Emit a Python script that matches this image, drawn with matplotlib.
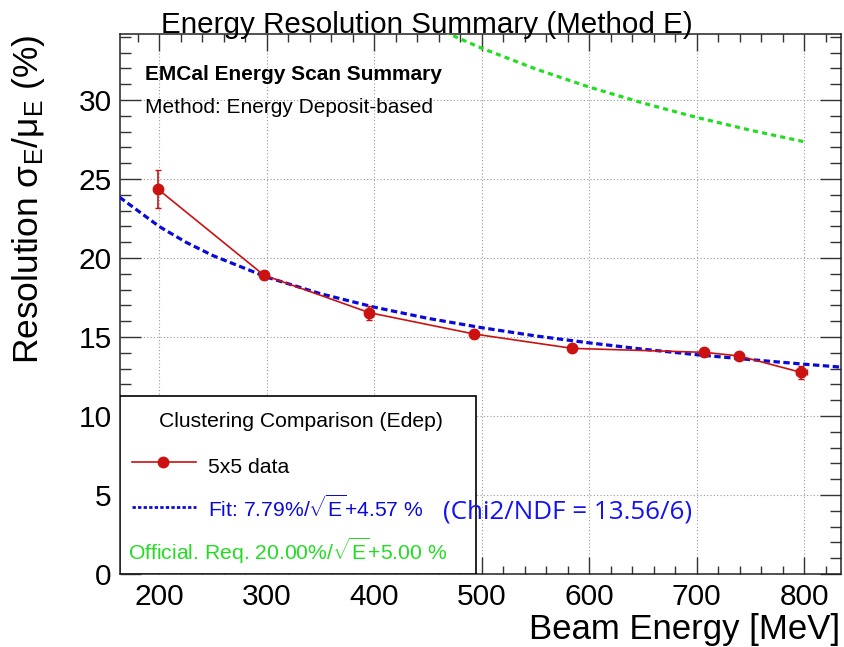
import numpy as np
import matplotlib
matplotlib.use('Agg')
import matplotlib.pyplot as plt
from matplotlib.patches import Rectangle
from matplotlib.lines import Line2D

plt.rcParams['font.family'] = ['Liberation Sans', 'DejaVu Sans']
plt.rcParams['mathtext.fontset'] = 'custom'
plt.rcParams['mathtext.rm'] = 'Liberation Sans'
plt.rcParams['mathtext.it'] = 'Liberation Sans:italic'
plt.rcParams['mathtext.bf'] = 'Liberation Sans:bold'
plt.rcParams['mathtext.sf'] = 'Liberation Sans'

# data
energy = [198.5, 297.2, 395.4, 492.9, 584.4, 707.2, 739.5, 797.2]
resol = [24.37, 18.92, 16.54, 15.19, 14.28, 14.03, 13.80, 12.76]
resol_err = [1.2, 0.2, 0.45, 0.25, 0.2, 0.2, 0.2, 0.4]
energy_err = [0, 0, 0, 0, 0, 0, 0, 5]

# fit curve 7.79%/sqrt(E)+4.57 %, read at these energies
fit_e = [163, 200, 225, 250, 300, 350, 400, 450, 500, 550, 600, 650, 700, 750, 800, 835]
fit_r = [23.85, 21.99, 20.99, 20.15, 18.79, 17.74, 16.89, 16.18, 15.59, 15.07,
         14.63, 14.23, 13.88, 13.57, 13.28, 13.09]

# official requirement 20%/sqrt(E)+5 %
req_e = [450, 475, 500, 550, 600, 650, 700, 750, 800]
req_r = [34.81, 34.02, 33.28, 31.97, 30.82, 29.81, 28.90, 28.09, 27.36]

xlim = [163.4, 834.0]
ylim = [0, 34.16]

red = '#cc1111'
blue = '#0a0ad8'
green = '#22dd22'

W, H = 845, 647
fig = plt.figure(figsize=(W / 100, H / 100), dpi=100)
L, R, T, B = 120, 840.7, 34.3, 574
ax = fig.add_axes([L / W, 1 - B / H, (R - L) / W, (B - T) / H])

def to_ax(px, py):
    return (px - L) / (R - L), (B - py) / (B - T)

ax.plot(req_e, req_r, color=green, lw=2.3, ls=(0, (1.6, 1.3)), zorder=3)
ax.plot(fit_e, fit_r, color=blue, lw=2.3, ls=(0, (2.0, 1.1)), zorder=4)
ax.errorbar(energy, resol, yerr=resol_err, xerr=energy_err, color=red, marker='o',
            markersize=7.5, lw=1.2, elinewidth=1.2, capsize=2.5, zorder=5)

ax.set_xlim(xlim)
ax.set_ylim(ylim)
ax.set_xticks(np.arange(200, 801, 100))
ax.set_xticks(np.arange(180, 834, 20), minor=True)
ax.set_yticks(np.arange(0, 31, 5))
ax.set_yticks(np.arange(0, 35, 1), minor=True)
ax.grid(True, which='major', color='#999999', lw=0.8, ls=(0, (1, 2)))
ax.tick_params(which='both', direction='in', top=True, right=True, colors='#333333',
               labelsize=21.5, width=1.0)
ax.tick_params(axis='x', which='major', length=12, pad=6.5)
ax.tick_params(axis='x', which='minor', length=6)
ax.tick_params(axis='y', which='major', length=15, pad=6)
ax.tick_params(axis='y', which='minor', length=8)
ax.tick_params(axis='both', labelcolor='black')
for s in ax.spines.values():
    s.set_linewidth(1.1)
    s.set_color('#222222')

fig.text(426.5 / W, 1 - 33 / H, 'Energy Resolution Summary (Method E)',
         ha='center', va='baseline', fontsize=21.3)
fig.text(840 / W, 1 - 639 / H, 'Beam Energy [MeV]', ha='right', va='baseline', fontsize=25)
fig.text(29 / W, 1 - 35 / H, 'Resolution σ$_{\\mathrm{E}}$/μ$_{\\mathrm{E}}$ (%)',
         rotation=90, ha='center', va='top', fontsize=25.5)

x0, y0 = to_ax(145, 80)
ax.text(x0, y0, 'EMCal Energy Scan Summary', transform=ax.transAxes,
        fontsize=15, fontweight='bold', va='baseline')
x0, y0 = to_ax(145, 113.3)
ax.text(x0, y0, 'Method: Energy Deposit-based', transform=ax.transAxes,
        fontsize=15, va='baseline')

# legend box
bx1, by1 = to_ax(475.7, 396)
ax.add_patch(Rectangle((0, 0), bx1, by1, transform=ax.transAxes, facecolor='white',
                       edgecolor='black', lw=1.2, zorder=6))
x0, y0 = to_ax(300.5, 426.7)
ax.text(x0, y0, 'Clustering Comparison (Edep)', transform=ax.transAxes, ha='center',
        va='baseline', fontsize=15.2, zorder=7)
xa, ya = to_ax(132, 462.3)
xb, _ = to_ax(196, 462.3)
xm, _ = to_ax(163.3, 462.3)
ax.add_line(Line2D([xa, xb], [ya, ya], transform=ax.transAxes, color=red, lw=1.2, zorder=7))
ax.add_line(Line2D([xm], [ya], transform=ax.transAxes, color=red, marker='o',
                   markersize=7.5, zorder=7))
x0, y0 = to_ax(208.3, 473.3)
ax.text(x0, y0, '5x5 data', transform=ax.transAxes, va='baseline', fontsize=15.2, zorder=7)
xa, ya = to_ax(132, 506.7)
ax.add_line(Line2D([xa, xb], [ya, ya], transform=ax.transAxes, color=blue, lw=2.0,
                   ls=(0, (1.2, 0.8)), zorder=7))
x0, y0 = to_ax(208.3, 516.7)
ax.text(x0, y0, 'Fit: 7.79%/$\\sqrt{\\mathrm{E}}$+4.57 %', transform=ax.transAxes,
        va='baseline', fontsize=15.2, color=blue, zorder=7)
x0, y0 = to_ax(128.3, 560)
ax.text(x0, y0, 'Official. Req. 20.00%/$\\sqrt{\\mathrm{E}}$+5.00 %', transform=ax.transAxes,
        va='baseline', fontsize=15.2, color=green, zorder=7)

x0, y0 = to_ax(442.7, 518.3)
ax.text(x0, y0, '(Chi2/NDF = 13.56/6)', transform=ax.transAxes, va='baseline',
        fontsize=18.7, color='#1414f0', family='Open Sans', zorder=8)

fig.savefig('out.png', dpi=100)
